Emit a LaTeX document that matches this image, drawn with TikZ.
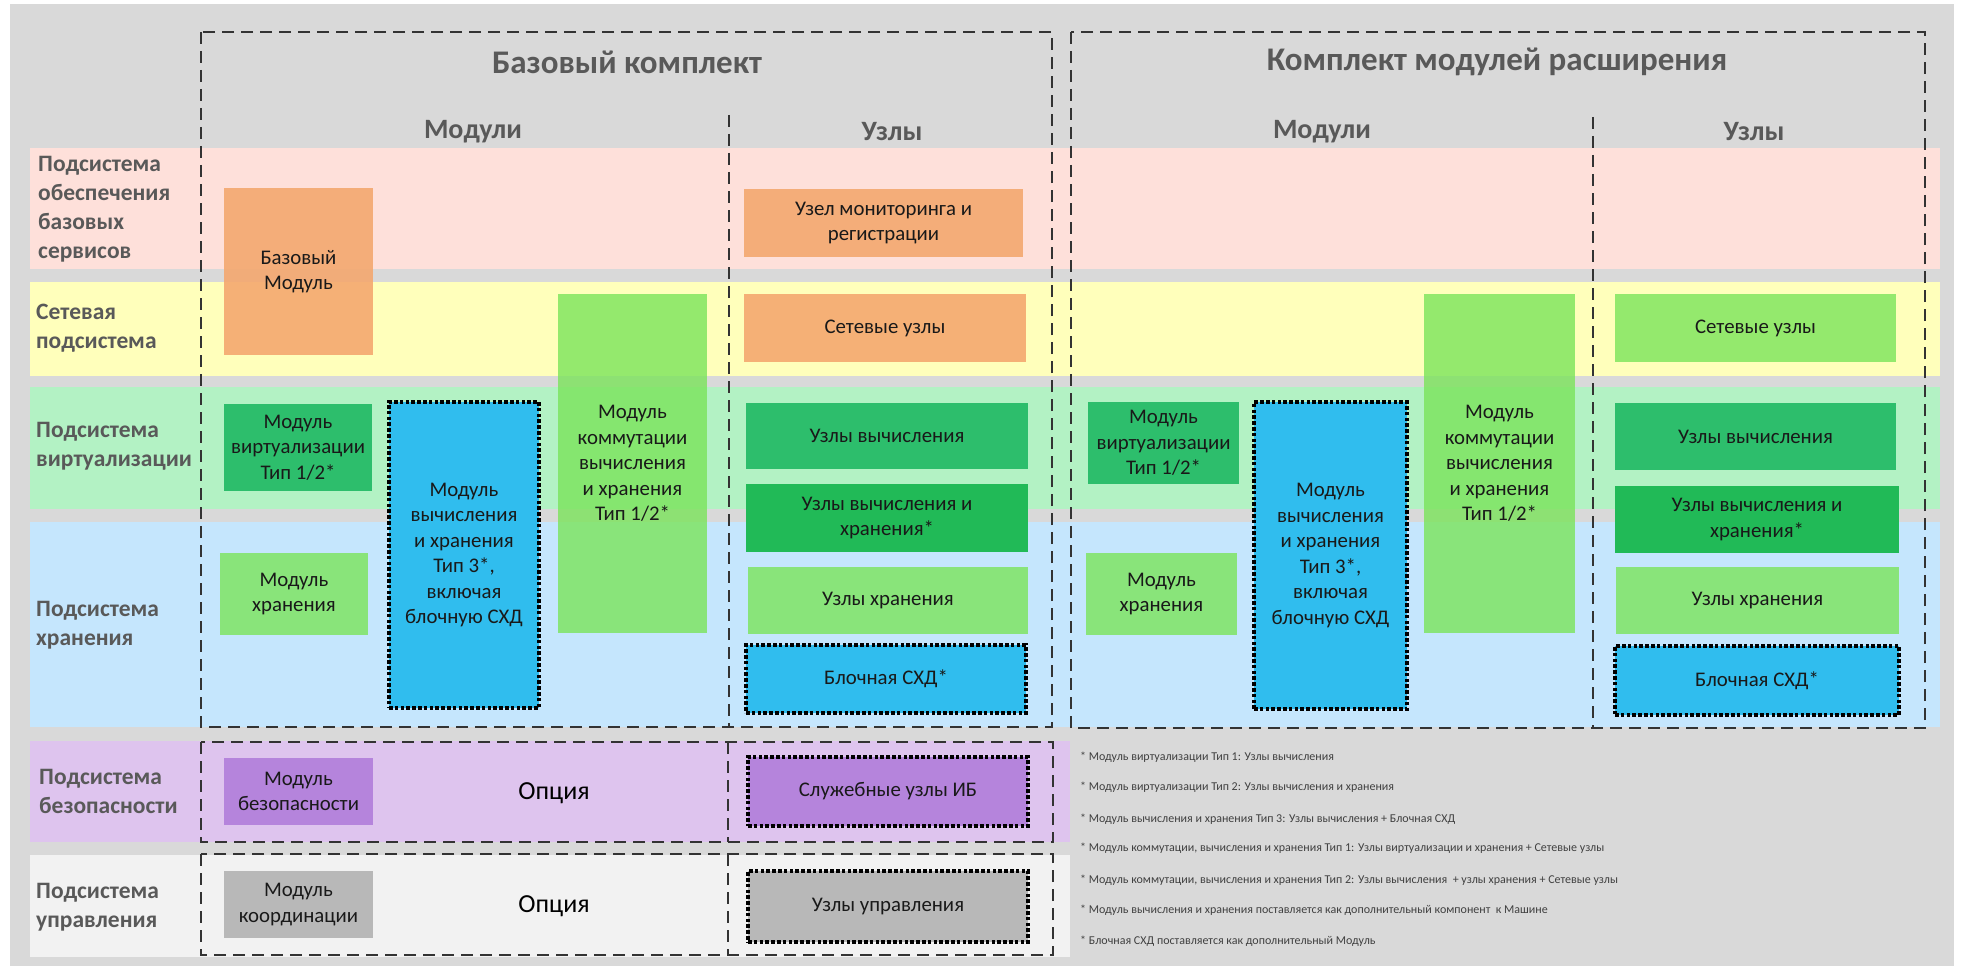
\documentclass[tikz,border=0pt]{standalone}
\usepackage{fontspec}
\setmainfont{Carlito}
\definecolor{bggrey}{HTML}{D9D9D9}
\definecolor{bpink}{HTML}{FEE0DA}
\definecolor{byellow}{HTML}{FFFFBB}
\definecolor{bgreen}{HTML}{B3F2C4}
\definecolor{bblue}{HTML}{C5E6FD}
\definecolor{blav}{HTML}{DEC4EE}
\definecolor{bwhite}{HTML}{F2F2F2}
\definecolor{corange}{HTML}{F4A86F}
\definecolor{cdgreen}{HTML}{2DBE6C}
\definecolor{cdgreen2}{HTML}{21BA57}
\definecolor{clgreen}{HTML}{7AE45A}
\definecolor{cblue}{HTML}{30BDEE}
\definecolor{cpurple}{HTML}{B584DC}
\definecolor{cgrey}{HTML}{B8B8B8}
\definecolor{hd}{HTML}{595959}
\definecolor{fn}{HTML}{404040}
\definecolor{frame}{HTML}{333333}
\begin{document}
\begin{tikzpicture}[x=1pt,y=-1pt,
  every node/.style={inner sep=0pt},
  kit/.style={draw=frame, line width=2.4pt, dash pattern=on 12pt off 7pt},
  divline/.style={draw=frame, line width=1.8pt, dash pattern=on 12pt off 7pt},
  ttl/.style={text=hd, font=\bfseries\fontsize{33}{38}\selectfont},
  subttl/.style={text=hd, font=\bfseries\fontsize{28}{32}\selectfont},
  lbl/.style={text=hd, align=left, anchor=west, font=\bfseries\fontsize{23.5}{29}\selectfont},
  bx/.style={align=center, text=black!90, font=\fontsize{20.8}{25.5}\selectfont},
  dotb/.style={draw=black, line width=3.2pt, dash pattern=on 3.6pt off 2.2pt},
  orng/.style={bx, fill=corange, fill opacity=.9, text opacity=1},
  lgr/.style={bx, fill=clgreen, fill opacity=.8, text opacity=1},
  dgr/.style={bx, fill=cdgreen},
  dgr2/.style={bx, fill=cdgreen2},
  blu/.style={bx, fill=cblue, dotb},
  opt/.style={text=black, font=\fontsize{26}{30}\selectfont},
  fnote/.style={anchor=west, text=fn, font=\fontsize{12}{14}\selectfont}]
\useasboundingbox (0,0) rectangle (1963,971);
\fill[bggrey] (10,4) rectangle (1954,966);
% bands
\fill[bpink] (30,148) rectangle (1940,269);
\fill[byellow] (30,282) rectangle (1940,376);
\fill[bgreen] (30,387) rectangle (1940,509);
\fill[bblue] (30,522) rectangle (1940,727);
\fill[blav] (30,741) rectangle (1070,842);
\fill[bwhite] (30,855) rectangle (1070,957);
% row labels
\node[lbl] (l1) at (38,209.5) {Подсистема\\обеспечения\\базовых\\сервисов};
\node[lbl] (l2) at (36,328) {Сетевая\\подсистема};
\node[lbl] (l3) at (36,446) {Подсистема\\виртуализации};
\node[lbl] (l4) at (36,625.5) {Подсистема\\хранения};
\node[lbl] (l5) at (39,791) {Подсистема\\безопасности};
\node[lbl] (l6) at (36,907.5) {Подсистема\\управления};
% headings
\node[ttl] (t1) at (627,62) {Базовый комплект};
\node[ttl] (t2) at (1497,62) {Комплект модулей расширения};
\node[subttl] (h1) at (473,132) {Модули};
\node[subttl] (h2) at (892,132) {Узлы};
\node[subttl] (h3) at (1322,132) {Модули};
\node[subttl] (h4) at (1754,132) {Узлы};
% base kit modules
\node[orng, minimum width=149pt, minimum height=167pt] (bm) at (298.5,271.5) {Базовый\\Модуль};
\node[dgr, minimum width=148pt, minimum height=87pt] (mv1) at (298,447.5) {Модуль\\виртуализации\\Тип 1/2*};
\node[blu, minimum width=150pt, minimum height=306pt] (mch) at (464,555) {Модуль\\вычисления\\и хранения\\Тип 3*,\\включая\\блочную СХД};
\node[lgr, minimum width=149pt, minimum height=339pt] (mk) at (632.5,463.5) {Модуль\\коммутации\\вычисления\\и хранения\\Тип 1/2*};
\node[lgr, minimum width=148pt, minimum height=82pt] (ms) at (294,594) {Модуль\\хранения};
% base kit nodes
\node[orng, minimum width=279pt, minimum height=68pt] (n1) at (883.5,223) {Узел мониторинга и\\регистрации};
\node[orng, minimum width=282pt, minimum height=68pt] (n2) at (885,328) {Сетевые узлы};
\node[dgr, minimum width=282pt, minimum height=66pt] (n3) at (887,436) {Узлы вычисления};
\node[dgr2, minimum width=282pt, minimum height=68pt] (n4) at (887,518) {Узлы вычисления и\\хранения*};
\node[lgr, minimum width=280pt, minimum height=67pt] (n5) at (888,600.5) {Узлы хранения};
\node[blu, minimum width=280pt, minimum height=68pt] (n6) at (886,679) {Блочная СХД*};
% security / management
\node[bx, fill=cpurple, minimum width=149pt, minimum height=67pt] (sm) at (298.5,791.5) {Модуль\\безопасности};
\node[opt] (o1) at (554,793) {Опция};
\node[bx, fill=cpurple, dotb, minimum width=280pt, minimum height=69pt] (sn) at (888,791.5) {Служебные узлы ИБ};
\node[bx, fill=cgrey, minimum width=149pt, minimum height=67pt] (cm) at (298.5,904.5) {Модуль\\координации};
\node[opt] (o2) at (554,906) {Опция};
\node[bx, fill=cgrey, dotb, minimum width=280pt, minimum height=71pt] (un) at (888,906.5) {Узлы управления};
% expansion kit modules
\node[dgr, minimum width=151pt, minimum height=82pt] (emv) at (1163.5,443) {Модуль\\виртуализации\\Тип 1/2*};
\node[blu, minimum width=153pt, minimum height=307pt] (ech) at (1330.5,555.5) {Модуль\\вычисления\\и хранения\\Тип 3*,\\включая\\блочную СХД};
\node[lgr, minimum width=151pt, minimum height=339pt] (ek) at (1499.5,463.5) {Модуль\\коммутации\\вычисления\\и хранения\\Тип 1/2*};
\node[lgr, minimum width=151pt, minimum height=82pt] (ems) at (1161.5,594) {Модуль\\хранения};
% expansion kit nodes
\node[lgr, minimum width=281pt, minimum height=68pt] (en2) at (1755.5,328) {Сетевые узлы};
\node[dgr, minimum width=281pt, minimum height=67pt] (en3) at (1755.5,436.5) {Узлы вычисления};
\node[dgr2, minimum width=284pt, minimum height=67pt] (en4) at (1757,519.5) {Узлы вычисления и\\хранения*};
\node[lgr, minimum width=283pt, minimum height=67pt] (en5) at (1757.5,600.5) {Узлы хранения};
\node[blu, minimum width=284pt, minimum height=69pt] (en6) at (1757,680.5) {Блочная СХД*};
% frames
\draw[kit] (201,32) rectangle (1052,727);
\draw[kit] (1071,32) rectangle (1925,728);
\draw[kit] (201,742) rectangle (1053,842);
\draw[kit] (201,854) rectangle (1053,955);
\draw[divline] (729,115) -- (729,727);
\draw[divline] (1593,117) -- (1593,728);
\draw[divline] (728,742) -- (728,842);
\draw[divline] (728,854) -- (728,955);
% footnotes
\node[fnote] (f1) at (1080,757) {* Модуль виртуализации Тип 1: Узлы вычисления};
\node[fnote] (f2) at (1080,787) {* Модуль виртуализации Тип 2: Узлы вычисления и хранения};
\node[fnote] (f3) at (1080,819) {* Модуль вычисления и хранения Тип 3: Узлы вычисления + Блочная СХД};
\node[fnote] (f4) at (1080,848) {* Модуль коммутации, вычисления и хранения Тип 1: Узлы виртуализации и хранения + Сетевые узлы};
\node[fnote] (f5) at (1080,880) {* Модуль коммутации, вычисления и хранения Тип 2: Узлы вычисления \ + узлы хранения + Сетевые узлы};
\node[fnote] (f6) at (1080,910) {* Модуль вычисления и хранения поставляется как дополнительный компонент \ к Машине};
\node[fnote] (f7) at (1080,941) {* Блочная СХД поставляется как дополнительный Модуль};
\end{tikzpicture}
\end{document}
